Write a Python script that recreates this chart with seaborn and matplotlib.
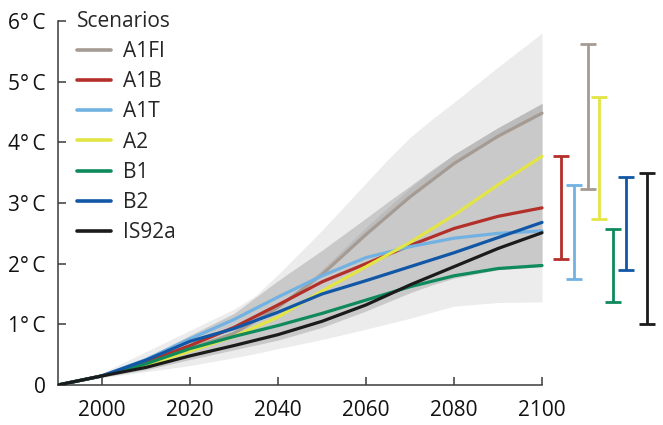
import matplotlib.pyplot as plt
import numpy as np
import pandas as pd
import seaborn as sns

# Scenario curves (warming in deg C relative to 1990)
years = [1990, 2000, 2010, 2020, 2030, 2040, 2050, 2060, 2070, 2080, 2090, 2100]
a1fi = [0, 0.15, 0.36, 0.6, 0.85, 1.28, 1.82, 2.48, 3.1, 3.65, 4.1, 4.48]
a1b = [0, 0.15, 0.38, 0.65, 0.95, 1.32, 1.7, 2.0, 2.3, 2.58, 2.78, 2.92]
a1t = [0, 0.15, 0.42, 0.76, 1.08, 1.45, 1.8, 2.1, 2.28, 2.42, 2.5, 2.54]
a2 = [0, 0.15, 0.32, 0.56, 0.8, 1.12, 1.55, 1.95, 2.35, 2.8, 3.3, 3.77]
b1 = [0, 0.15, 0.35, 0.6, 0.8, 0.98, 1.18, 1.4, 1.62, 1.8, 1.92, 1.97]
b2 = [0, 0.15, 0.41, 0.72, 0.93, 1.2, 1.5, 1.72, 1.95, 2.18, 2.43, 2.68]
is92a = [0, 0.15, 0.29, 0.48, 0.65, 0.83, 1.05, 1.32, 1.65, 1.95, 2.25, 2.51]

scenarios = ["A1FI", "A1B", "A1T", "A2", "B1", "B2", "IS92a"]
colors = ["#a59b93", "#b3302a", "#71b2e2", "#e2e544", "#0f8a5c", "#1257a6", "#1b1b1b"]

# Shaded envelopes
band_years = [1990, 2000, 2010, 2020, 2030, 2035, 2040, 2050, 2060, 2065, 2070, 2075, 2080, 2090, 2100]
outer_top = [0, 0.2, 0.55, 0.9, 1.25, 1.48, 1.82, 2.55, 3.33, 3.72, 4.08, 4.38, 4.66, 5.24, 5.8]
outer_bottom = [0, 0.12, 0.22, 0.32, 0.45, 0.52, 0.6, 0.75, 0.92, 1.01, 1.1, 1.2, 1.3, 1.36, 1.37]
inner_top = [0, 0.17, 0.45, 0.82, 1.18, 1.45, 1.72, 2.22, 2.75, 3.02, 3.28, 3.55, 3.8, 4.24, 4.64]
inner_bottom = [0, 0.13, 0.25, 0.42, 0.58, 0.66, 0.74, 0.95, 1.22, 1.37, 1.52, 1.65, 1.76, 1.9, 1.95]
# darker rim just above the A1FI curve
rim_top = [0, 0.15, 0.36, 0.6, 0.85, 1.28, 1.9, 2.6, 3.25, 3.8, 4.24, 4.64]

# 2100 ranges (bars to the right of the plot)
bar_names = ["A1B", "A1T", "A1FI", "A2", "B1", "B2", "IS92a"]
bar_low = [2.07, 1.75, 3.23, 2.74, 1.36, 1.90, 1.00]
bar_high = [3.77, 3.30, 5.62, 4.74, 2.57, 3.43, 3.49]

ytick_labels = ["0", "1°\u2009C", "2°\u2009C", "3°\u2009C", "4°\u2009C", "5°\u2009C", "6°\u2009C"]

sns.set_style("white")
plt.rcParams["font.family"] = ["Open Sans", "DejaVu Sans"]

df = pd.DataFrame({
    "year": years * len(scenarios),
    "temp": a1fi + a1b + a1t + a2 + b1 + b2 + is92a,
    "scenario": [s for s in scenarios for _ in years],
})

fig = plt.figure(figsize=(6.63, 4.25), dpi=100)
ax = fig.add_axes([58 / 663, 40 / 425, 605 / 663, 364 / 425])

ax.fill_between(band_years, outer_bottom, outer_top, color="#ececec", lw=0, zorder=0)
ax.fill_between(band_years, inner_bottom, inner_top, color="#c9c9c9", lw=0, zorder=1)
ax.fill_between(years, a1fi, rim_top, color="#bcbcbc", lw=0, zorder=1)

sns.lineplot(data=df, x="year", y="temp", hue="scenario", hue_order=scenarios,
             palette=colors, linewidth=2.3, ax=ax, zorder=3)

pal = dict(zip(scenarios, colors))
bar_x = [2104.3, 2107.3, 2110.5, 2113.0, 2116.1, 2119.1, 2123.9]
for x, name, lo, hi in zip(bar_x, bar_names, bar_low, bar_high):
    _, caps, _ = ax.errorbar(x, (lo + hi) / 2, yerr=(hi - lo) / 2, fmt="none",
                             ecolor=pal[name], elinewidth=2.0, capsize=5.5,
                             capthick=2.0, clip_on=False)
    if name == "A1FI":
        for c in caps:
            c.set_color(pal["A1B"])

ax.set_xlim(1990, 2127.5)
ax.set_ylim(0, 6)
ax.set_xticks([2000, 2020, 2040, 2060, 2080, 2100])
ax.set_yticks(range(7))
ax.set_yticklabels(ytick_labels)
ax.set_xlabel("")
ax.set_ylabel("")
for s in ["top", "right"]:
    ax.spines[s].set_visible(False)
ax.spines["bottom"].set_bounds(1990, 2100)
for s in ["left", "bottom"]:
    ax.spines[s].set_color("#3a3a3a")
    ax.spines[s].set_linewidth(1.1)
ax.tick_params(direction="in", length=5.8, width=1.1, color="#3a3a3a",
               labelsize=15, labelcolor="#111111", pad=9)
ax.tick_params(axis="x", pad=11, bottom=True)
ax.tick_params(axis="y", left=True)

leg = ax.legend(title="Scenarios", loc="upper left", frameon=False, fontsize=15,
                title_fontsize=15, alignment="left", handlelength=1.65,
                handletextpad=0.55, labelspacing=0.44, borderpad=0, borderaxespad=0,
                bbox_to_anchor=(77 / 663, 1 - 11 / 425), bbox_transform=fig.transFigure)
for h in leg.get_lines():
    h.set_linewidth(2.6)

fig.savefig("out.png", dpi=100)
